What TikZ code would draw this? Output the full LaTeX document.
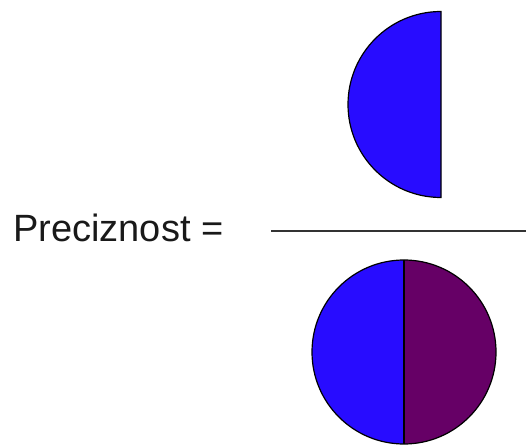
\documentclass[tikz,border=0pt]{standalone}
\usepackage{fontspec}
\setmainfont{Liberation Sans}
\definecolor{pblue}{RGB}{40,12,255}
\definecolor{ppurple}{RGB}{102,0,102}
\begin{document}
\begin{tikzpicture}[x=1pt,y=1pt,
  shape outline/.style={draw=black,line width=1.2pt},
  label text/.style={font=\fontsize{38}{40}\selectfont,text=black!90,inner sep=0pt,anchor=base west}]
\useasboundingbox (0,0) rectangle (526,444);
\fill[white] (0,0) rectangle (526,444);
% top half circle
\coordinate (tc) at (441,339.5);
\filldraw[shape outline,fill=pblue] ([yshift=93pt]tc) arc[start angle=90,end angle=270,radius=93] -- cycle;
% fraction line
\coordinate (l1) at (271,213);
\coordinate (l2) at (526,213);
\draw[line width=1.6pt,black!80] (l1) -- (l2);
% label
\node[label text] (lab) at (13,202) {Preciznost =};
% bottom circle
\coordinate (bc) at (404,92);
\fill[pblue] ([yshift=92pt]bc) arc[start angle=90,end angle=270,radius=92] -- cycle;
\fill[ppurple] ([yshift=-92pt]bc) arc[start angle=-90,end angle=90,radius=92] -- cycle;
\draw[shape outline] (bc) circle[radius=92];
\draw[shape outline] ([yshift=92pt]bc) -- ([yshift=-92pt]bc);
\end{tikzpicture}
\end{document}
